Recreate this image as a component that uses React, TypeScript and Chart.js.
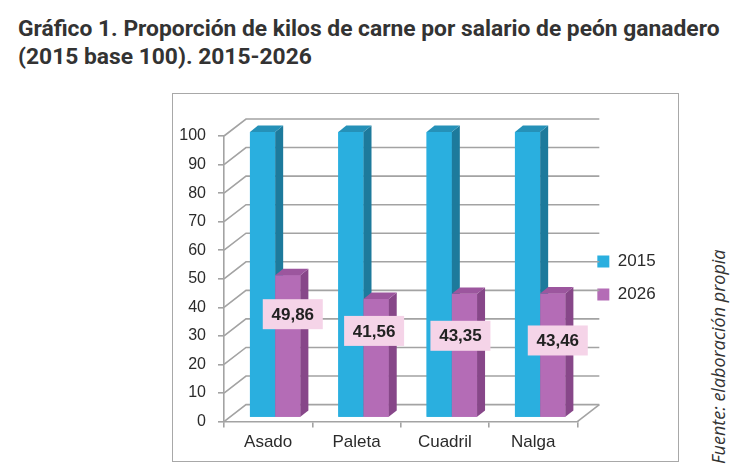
import { useEffect, useRef } from 'react';
import Chart from 'chart.js/auto';

const categories = ['Asado', 'Paleta', 'Cuadril', 'Nalga'];
const seriesNames = ['2015', '2026'];
const values2015 = [100, 100, 100, 100];
const values2026 = [49.86, 41.56, 43.35, 43.46];
const yTicks = [0, 10, 20, 30, 40, 50, 60, 70, 80, 90, 100];

// hand-placed data label offsets (px from the bar top / bar centre)
const labelShiftX = [5, -2, -4, 5];
const labelShiftY = [39, 32, 42, 47];

const FRONT = ['#2aafdf', '#b46cb6'];
const SIDE = ['#1d7a9c', '#874789'];
const TOP = ['#2591b8', '#9c569e'];
const GRID = '#a3a3a3';

// wall depth and bar position inside it
const DX = 22;
const DY = 17;
const BAR_X = 7;
const BAR_Y = -4;
const BAR_DX = 8;
const BAR_DY = 6.4;

const fmt = (v: number) => v.toFixed(2).replace('.', ',');

const threeD = {
  id: 'threeD',
  afterLayout(chart: any) {
    // lift the legend to match the original placement
    if (chart.legend) {
      chart.legend.top -= 19;
      chart.legend.bottom -= 19;
    }
  },
  beforeDatasetsDraw(chart: any) {
    const { ctx, chartArea } = chart;
    const y = chart.scales.y;
    ctx.save();
    ctx.strokeStyle = GRID;
    ctx.lineWidth = 1.6;
    yTicks.forEach((v) => {
      const py = y.getPixelForValue(v);
      ctx.beginPath();
      ctx.moveTo(chartArea.left, py);
      ctx.lineTo(chartArea.left + DX, py - DY);
      ctx.lineTo(chartArea.right + DX, py - DY);
      ctx.stroke();
    });
    const p0 = y.getPixelForValue(0);
    ctx.beginPath();
    ctx.moveTo(chartArea.right, p0);
    ctx.lineTo(chartArea.right + DX, p0 - DY);
    ctx.stroke();
    ctx.restore();
  },
  beforeDatasetDraw(chart: any) {
    chart.ctx.save();
    chart.ctx.translate(BAR_X, BAR_Y);
  },
  afterDatasetDraw(chart: any) {
    chart.ctx.restore();
  },
  afterDatasetsDraw(chart: any) {
    const { ctx } = chart;
    const metas = [chart.getDatasetMeta(0), chart.getDatasetMeta(1)];
    ctx.save();
    ctx.translate(BAR_X, BAR_Y);
    // boxes drawn per category, left series first, so faces overlap correctly
    categories.forEach((_, i) => {
      metas.forEach((meta, d) => {
        const bar = meta.data[i];
        if (!bar) return;
        const { x, y, base, width } = bar.getProps(['x', 'y', 'base', 'width'], true);
        const x1 = x - width / 2;
        const x2 = x + width / 2;
        ctx.fillStyle = FRONT[d];
        ctx.fillRect(x1, y, width, base - y);
        ctx.fillStyle = SIDE[d];
        ctx.beginPath();
        ctx.moveTo(x2, y);
        ctx.lineTo(x2 + BAR_DX, y - BAR_DY);
        ctx.lineTo(x2 + BAR_DX, base - BAR_DY);
        ctx.lineTo(x2, base);
        ctx.closePath();
        ctx.fill();
        ctx.fillStyle = TOP[d];
        ctx.beginPath();
        ctx.moveTo(x1, y);
        ctx.lineTo(x1 + BAR_DX, y - BAR_DY);
        ctx.lineTo(x2 + BAR_DX, y - BAR_DY);
        ctx.lineTo(x2, y);
        ctx.closePath();
        ctx.fill();
      });
    });
    ctx.font = 'bold 17px "Liberation Sans", Arial, sans-serif';
    ctx.textAlign = 'center';
    ctx.textBaseline = 'middle';
    metas[1].data.forEach((bar: any, i: number) => {
      const { x, y } = bar.getProps(['x', 'y'], true);
      const cx = x + labelShiftX[i];
      const cy = y + labelShiftY[i];
      ctx.fillStyle = '#f5d4e8';
      ctx.fillRect(cx - 30, cy - 15, 60, 30);
      ctx.fillStyle = '#222';
      ctx.fillText(fmt(values2026[i]), cx, cy + 1);
    });
    ctx.restore();
  },
};

function BarChart3D() {
  const canvasRef = useRef<HTMLCanvasElement>(null);
  const chartRef = useRef<Chart | null>(null);

  useEffect(() => {
    if (!canvasRef.current) return;
    if (chartRef.current) chartRef.current.destroy();

    chartRef.current = new Chart(canvasRef.current, {
      type: 'bar',
      data: {
        labels: categories,
        datasets: [
          {
            label: seriesNames[0],
            data: values2015,
            backgroundColor: FRONT[0],
            clip: false as any,
          },
          {
            label: seriesNames[1],
            data: values2026,
            backgroundColor: FRONT[1],
            clip: false as any,
          },
        ],
      },
      options: {
        animation: false,
        responsive: false,
        maintainAspectRatio: false,
        categoryPercentage: 0.571,
        barPercentage: 1,
        layout: { padding: { left: 0, top: 42, right: 15, bottom: 3 } },
        scales: {
          x: {
            grid: { drawOnChartArea: false, tickLength: 6, color: GRID, lineWidth: 1.6 },
            border: { color: GRID, width: 1.6 },
            ticks: {
              color: '#2b2b2b',
              padding: 5,
              font: { family: '"Liberation Sans", Arial, sans-serif', size: 17 },
            },
          },
          y: {
            min: 0,
            max: 100,
            afterBuildTicks: (scale: any) => {
              scale.ticks = yTicks.map((v) => ({ value: v }));
            },
            afterFit: (scale: any) => {
              scale.width = 51;
            },
            grid: { drawOnChartArea: false, tickLength: 6, color: GRID, lineWidth: 1.6 },
            border: { color: GRID, width: 1.6 },
            ticks: {
              color: '#2b2b2b',
              padding: 12,
              font: { family: '"Liberation Sans", Arial, sans-serif', size: 16 },
            },
          },
          gap: {
            position: 'right',
            display: true,
            grid: { display: false },
            border: { display: false },
            ticks: { display: false },
            afterFit: (scale: any) => {
              scale.width = 4;
            },
          },
        },
        plugins: {
          legend: {
            position: 'right',
            labels: {
              boxWidth: 12,
              boxHeight: 12,
              padding: 16,
              color: '#2b2b2b',
              font: { family: '"Liberation Sans", Arial, sans-serif', size: 17 },
            },
          },
          tooltip: { enabled: false },
        },
      },
      plugins: [threeD],
    });

    return () => {
      if (chartRef.current) {
        chartRef.current.destroy();
        chartRef.current = null;
      }
    };
  }, []);

  return <canvas ref={canvasRef} width={505} height={367} style={{ display: 'block' }} />;
}

export default function App() {
  return (
    <div
      style={{
        position: 'fixed',
        left: 0,
        top: 0,
        width: 746,
        height: 474,
        background: '#fff',
        overflow: 'hidden',
      }}
    >
      <div
        style={{
          position: 'absolute',
          left: 18,
          top: 15,
          width: 728,
          fontFamily: 'Roboto, "Noto Sans", sans-serif',
          fontWeight: 700,
          fontSize: 22.8,
          lineHeight: '28px',
          color: '#333',
          whiteSpace: 'nowrap',
        }}
      >
        Gráfico 1. Proporción de kilos de carne por salario de peón ganadero
        <br />
        (2015 base 100). 2015-2026
      </div>
      <div
        style={{
          position: 'absolute',
          left: 172,
          top: 93,
          width: 505,
          height: 367,
          border: '1px solid #a8a8a8',
        }}
      >
        <BarChart3D />
      </div>
      <div
        style={{
          position: 'absolute',
          left: 706,
          top: 234,
          height: 230,
          writingMode: 'vertical-rl',
          transform: 'rotate(180deg)',
          fontFamily: '"Open Sans", "Noto Sans", sans-serif',
          fontStyle: 'italic',
          fontSize: 18,
          lineHeight: '24px',
          color: '#333',
          whiteSpace: 'nowrap',
        }}
      >
        Fuente: elaboración propia
      </div>
    </div>
  );
}
